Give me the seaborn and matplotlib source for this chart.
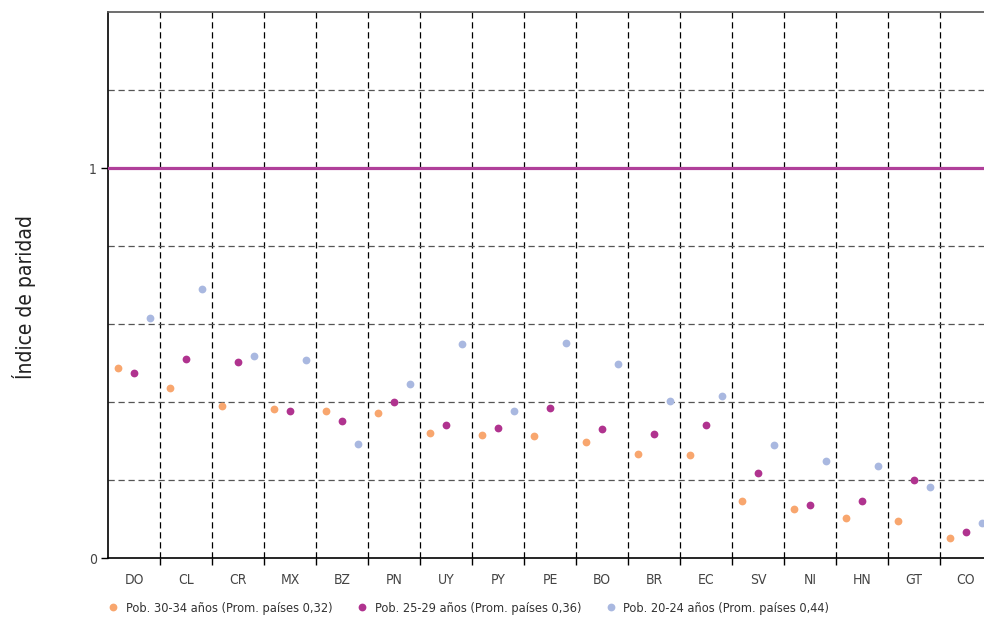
import numpy as np
import pandas as pd
import seaborn as sns
import matplotlib.pyplot as plt
from matplotlib import font_manager

paises = ['DO', 'CL', 'CR', 'MX', 'BZ', 'PN', 'UY', 'PY', 'PE', 'BO', 'BR', 'EC', 'SV', 'NI', 'HN', 'GT', 'CO']
pob_30_34 = [0.487, 0.436, 0.390, 0.382, 0.377, 0.372, 0.321, 0.315, 0.313, 0.297, 0.267, 0.264, 0.146, 0.126, 0.103, 0.095, 0.051]
pob_25_29 = [0.474, 0.510, 0.503, 0.377, 0.351, 0.400, 0.341, 0.333, 0.385, 0.331, 0.318, 0.341, 0.218, 0.136, 0.146, 0.200, 0.067]
pob_20_24 = [0.615, 0.690, 0.518, 0.508, 0.292, 0.446, 0.549, 0.377, 0.551, 0.497, 0.403, 0.415, 0.290, 0.249, 0.236, 0.182, 0.090]
grupos = ['Pob. 30-34 años (Prom. países 0,32)',
          'Pob. 25-29 años (Prom. países 0,36)',
          'Pob. 20-24 años (Prom. países 0,44)']
colores = ['#F8A66E', '#B0338F', '#A9B8E0']

df = pd.DataFrame({
    'pais': paises * 3,
    'valor': pob_30_34 + pob_25_29 + pob_20_24,
    'grupo': np.repeat(grupos, len(paises)),
})

sns.set_style('white')

# the original uses a condensed face; take one if the machine has it
familia, ancho = 'Roboto', 'normal'
for pref in ['Roboto', 'Liberation Sans Narrow', 'DejaVu Sans', 'Open Sans', 'Noto Sans']:
    hits = [f for f in font_manager.fontManager.ttflist
            if f.name == pref and f.style == 'normal' and f.weight in (400, 'normal')
            and (f.stretch in ('condensed', 'semi-condensed') or 'Narrow' in f.name)]
    if hits:
        familia, ancho = hits[0].name, hits[0].stretch
        break
plt.rcParams['font.family'] = [familia, 'DejaVu Sans']
plt.rcParams['font.stretch'] = ancho
condensed = ancho != 'normal' or 'Narrow' in familia
fs = 9.2 if condensed else 8.2

fig = plt.figure(figsize=(9.84, 6.18), dpi=100)
ax = fig.add_axes([108 / 984, 60 / 618, 884 / 984, 546 / 618])

sns.pointplot(data=df, x='pais', y='valor', hue='grupo', order=paises, hue_order=grupos,
              palette=colores, dodge=0.6, linestyle='none', errorbar=None,
              markers='o', markersize=5.6, markeredgewidth=0, ax=ax, zorder=5)

ax.axhline(1, color='#B0409A', lw=2.3, zorder=4)

ax.set_xlim(-0.5, len(paises) - 0.5)
ax.set_ylim(0, 1.4)
ax.set_yticks([0, 1])
ax.set_yticklabels(['0', '1'])
ax.set_yticks([0.2, 0.4, 0.6, 0.8, 1.2], minor=True)
ax.set_xticks(np.arange(len(paises) - 1) + 0.5, minor=True)

ax.grid(False)
ax.grid(which='minor', axis='y', color='#555555', ls=(0, (5, 3)), lw=0.9)
ax.grid(which='minor', axis='x', color='black', ls=(0, (5, 3)), lw=0.9)
ax.tick_params(axis='x', which='major', length=0, pad=11, labelsize=fs + 0.8, labelcolor='#444444')
ax.tick_params(axis='x', which='minor', length=5, width=1, color='black', direction='out')
ax.tick_params(axis='y', which='major', length=5, width=1, color='black', direction='out',
               labelsize=fs + 0.8, labelcolor='#444444', pad=3)
ax.tick_params(axis='y', which='minor', length=0)
ax.tick_params(bottom=True, left=True, which='both')

for side in ['left', 'bottom']:
    ax.spines[side].set_color('black')
    ax.spines[side].set_linewidth(1.2)
ax.spines['top'].set_color('#555555')
ax.spines['top'].set_linewidth(1.2)
ax.spines['right'].set_visible(False)

ax.set_xlabel('')
ax.set_ylabel('Índice de paridad', fontsize=15, color='#222222')
ax.yaxis.set_label_coords(-0.082, 0.478)

handles, labels = ax.get_legend_handles_labels()
ax.get_legend().remove()
fig.legend(handles, labels, loc='center left', bbox_to_anchor=(0.098, 0.016), ncol=3,
           frameon=False, fontsize=fs, handlelength=0.8, handletextpad=0.6,
           columnspacing=1.9, labelcolor='#333333')

fig.savefig('out.png', dpi=100)
